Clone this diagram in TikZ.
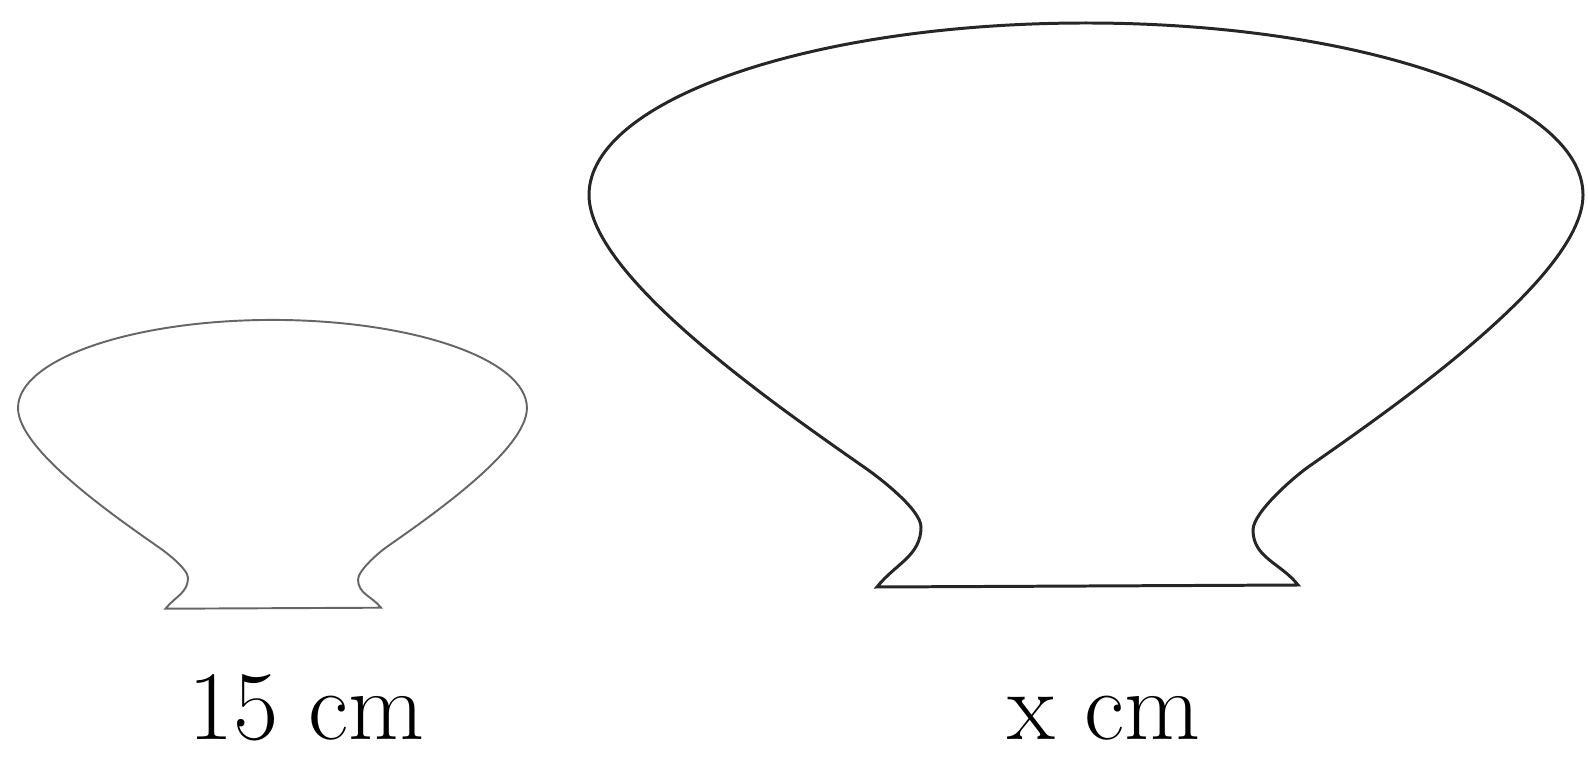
\documentclass[tikz,border=0pt]{standalone}
\usepackage{tikz}
\usetikzlibrary{calc}

\begin{document}
\begin{tikzpicture}[x=0.02cm,y=0.02cm,
    lbl/.style={anchor=base,inner sep=0pt,font=\fontsize{56}{66}\selectfont}]
                \useasboundingbox (0,0) rectangle (1588,761);
                %Vases: centre x / centre y / scale / width / colour
                \foreach \cx/\cy/\s/\lw/\col in {272.5/353/0.512/1.1pt/black!60, 1086/566/1/1.7pt/black!85}{
                \begin{scope}[shift={(\cx,\cy)},scale=\s]
                \coordinate (bl) at (-209,-392);
                \coordinate (nl) at (-165,-332);
                \coordinate (ql) at (-225,-270);
                \coordinate (el) at (-497,0);
                \coordinate (qr) at (225,-270);
                \coordinate (nr) at (167,-335);
                \coordinate (br) at (212,-390);
                %Outline
                \draw[line width=\lw,draw=\col] (bl) to[out=52,in=-90] (nl)
                    .. controls +(0,18) and +(15,-10) .. (ql)
                    .. controls +(-90,63) and +(0,-80) .. (el)
                    arc[start angle=180,end angle=0,x radius=497,y radius=172]
                    .. controls +(0,-80) and +(90,63) .. (qr)
                    .. controls +(-15,-10) and +(0,18) .. (nr)
                    to[out=-90,in=128] (br) -- cycle;
                \end{scope}
                }
                %Labels
                \node[lbl] (len15) at (306,22) {15 cm};
                \node[lbl] (lenx) at (1104,22) {x cm};
\end{tikzpicture}
\end{document}
